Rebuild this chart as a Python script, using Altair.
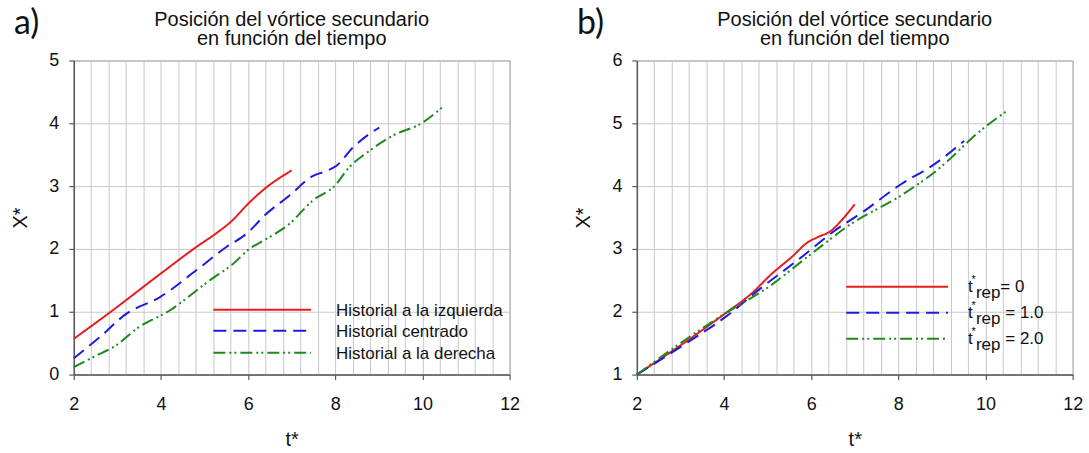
import altair as alt
import pandas as pd

FONT = "Liberation Sans"
PANEL_FONT = "Lato"

# ---- values read for each curve ----
TITLE_LINES = ["Posición del vórtice secundario", "en función del tiempo"]

SERIES_A = ["Historial a la izquierda", "Historial centrado", "Historial a la derecha"]
A_RED_T = [2.0, 2.83, 3.98, 4.81, 5.27, 5.6, 6.03, 6.42, 7.0]
A_RED_X = [0.57, 0.99, 1.6, 2.03, 2.25, 2.43, 2.74, 2.98, 3.25]
A_BLUE_T = [2.0, 2.6, 3.21, 3.97, 4.81, 5.5, 5.96, 6.42, 6.95, 7.48, 7.79, 8.02, 8.4, 8.78, 9.01]
A_BLUE_X = [0.26, 0.6, 0.97, 1.23, 1.66, 2.03, 2.24, 2.56, 2.85, 3.16, 3.24, 3.32, 3.61, 3.83, 3.93]
A_GREEN_T = [2.0, 2.45, 2.98, 3.44, 4.2, 5.12, 5.65, 6.03, 6.42, 6.95, 7.48, 7.98, 8.32, 8.78, 9.31, 10.0, 10.5]
A_GREEN_X = [0.12, 0.28, 0.47, 0.73, 1.02, 1.5, 1.76, 2.0, 2.16, 2.4, 2.77, 3.0, 3.3, 3.56, 3.8, 4.01, 4.28]

SERIES_B = ["rep0", "rep1", "rep2"]
B_LABEL_REST = ["= 0", " = 1.0", " = 2.0"]
B_RED_T = [2.0, 2.5, 3.18, 4.02, 4.63, 5.09, 5.55, 5.93, 6.16, 6.46, 6.69, 7.0]
B_RED_X = [1.0, 1.23, 1.55, 1.97, 2.29, 2.6, 2.87, 3.11, 3.19, 3.29, 3.45, 3.71]
B_BLUE_T = [2.0, 3.18, 4.02, 4.78, 5.78, 6.54, 7.23, 8.06, 8.83, 9.51]
B_BLUE_X = [1.0, 1.52, 1.91, 2.34, 2.87, 3.29, 3.61, 4.03, 4.35, 4.72]
B_GREEN_T = [2.0, 3.0, 4.02, 5.01, 6.0, 6.92, 7.99, 8.83, 9.97, 10.5]
B_GREEN_X = [1.0, 1.5, 1.97, 2.39, 2.92, 3.4, 3.82, 4.22, 4.93, 5.2]

# vertical grid every 0.4 in t*, labelled every 2
GRID_T = [2.0, 2.4, 2.8, 3.2, 3.6, 4.0, 4.4, 4.8, 5.2, 5.6, 6.0, 6.4, 6.8, 7.2, 7.6,
          8.0, 8.4, 8.8, 9.2, 9.6, 10.0, 10.4, 10.8, 11.2, 11.6, 12.0]

COLORS = ["#e41e1e", "#1c1ce0", "#1d8a1d"]
DASHES = [[1, 0], [13, 7], [12, 4, 2, 3, 2, 4]]

W, H = 437, 315


def frame(series, ts, xs):
    parts = []
    for name, t, x in zip(series, ts, xs):
        parts.append(pd.DataFrame({"serie": name, "t": t, "x": x}))
    return pd.concat(parts, ignore_index=True)


def one():
    return alt.Data(values=[{"k": 0}])


def x_axis():
    major = "datum.value % 2 === 0"
    return alt.Axis(
        values=GRID_T, grid=True, title="t*",
        labelExpr=f"{major} ? format(datum.value, 'd') : ''",
        tickOpacity={"condition": {"test": major, "value": 1}, "value": 0},
        labelFlush=False, labelOverlap=False, labelPadding=16,
        titleX=W / 2, titleY=71, titleBaseline="alphabetic",
    )


def y_axis(lo, hi):
    return alt.Axis(
        values=list(range(lo, hi + 1)), grid=True, title="X*",
        labelExpr="format(datum.value, 'd')",
        labelPadding=10, titleX=-47, titleY=H / 2, titleAngle=270,
        titleBaseline="alphabetic", titleAlign="center",
    )


def curves(df, series, lo, hi):
    return alt.Chart(df).mark_line(strokeWidth=2, interpolate="monotone").encode(
        x=alt.X("t:Q", scale=alt.Scale(domain=[2, 12], nice=False), axis=x_axis()),
        y=alt.Y("x:Q", scale=alt.Scale(domain=[lo, hi], nice=False), axis=y_axis(lo, hi)),
        color=alt.Color("serie:N", scale=alt.Scale(domain=series, range=COLORS), legend=None),
        strokeDash=alt.StrokeDash("serie:N", scale=alt.Scale(domain=series, range=DASHES), legend=None),
        detail="serie:N",
    )


def key_line(name, x0, x1, y):
    return alt.Chart(alt.Data(values=[{"serie": name}])).mark_rule(strokeWidth=2).encode(
        x=alt.value(x0), x2=alt.value(x1), y=alt.value(y),
        color=alt.Color("serie:N", legend=None),
        strokeDash=alt.StrokeDash("serie:N", legend=None),
    )


def label(text, x, y, size=17, align="left", baseline="alphabetic", font=FONT):
    return alt.Chart(one()).mark_text(
        font=font, fontSize=size, align=align, baseline=baseline, color="#111"
    ).encode(x=alt.value(x), y=alt.value(y), text=alt.value(text))


def heading(tag):
    return [
        label(TITLE_LINES[0], W / 2, -35, size=20, align="center"),
        label(TITLE_LINES[1], W / 2, -15, size=20, align="center"),
        label(tag, -60, -27, size=34, font=PANEL_FONT),
    ]


# ---- panel a ----
df_a = frame(SERIES_A, [A_RED_T, A_BLUE_T, A_GREEN_T], [A_RED_X, A_BLUE_X, A_GREEN_X])
keys_a = []
for name, yy in zip(SERIES_A, [250, 271, 293]):
    keys_a.append(key_line(name, 140, 238, yy))
    keys_a.append(label(name, 263, yy + 6))
panel_a = alt.layer(curves(df_a, SERIES_A, 0, 5), *keys_a, *heading("a)")).properties(width=W, height=H)

# ---- panel b: t*_rep keys, star raised and "rep" lowered ----
df_b = frame(SERIES_B, [B_RED_T, B_BLUE_T, B_GREEN_T], [B_RED_X, B_BLUE_X, B_GREEN_X])
keys_b = []
for name, rest, yy in zip(SERIES_B, B_LABEL_REST, [227, 253, 279]):
    keys_b.append(key_line(name, 210, 312, yy))
    base = yy + 5
    gap = 5 if rest.startswith(" ") else 0
    keys_b.append(label("t", 332, base))
    keys_b.append(label("*", 335.5, base - 9, size=11))
    keys_b.append(label("rep", 340, base + 6))
    keys_b.append(label(rest.strip(), 364.5 + gap, base))
panel_b = alt.layer(curves(df_b, SERIES_B, 1, 6), *keys_b, *heading("b)")).properties(width=W, height=H)

chart = alt.hconcat(panel_a, panel_b, spacing=127.6, bounds="flush").properties(
    padding={"left": 10, "top": 5, "right": 5, "bottom": 0}
).configure_view(
    stroke="#8a8a8a", strokeWidth=1
).configure_axis(
    labelFont=FONT, labelFontSize=18, labelColor="#111",
    titleFont=FONT, titleFontSize=20, titleColor="#111", titleFontWeight="normal",
    gridColor="#c8c8c8", gridWidth=1,
    domainColor="#595959", domainWidth=1.5,
    tickColor="#595959", tickSize=5, tickWidth=1.2,
)

chart.save("out.html", embed_options={"renderer": "svg", "actions": False})
